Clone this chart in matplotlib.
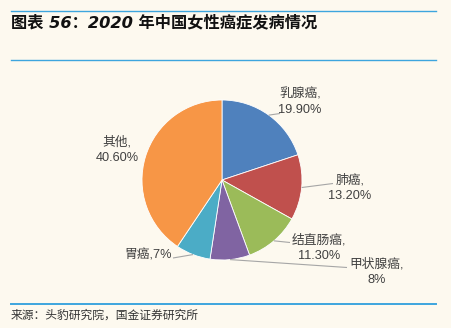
import matplotlib
matplotlib.use("Agg")
import matplotlib.pyplot as plt
import numpy as np

# ---- data ----
categories = ["乳腺癌", "肺癌", "结直肠癌", "甲状腺癌", "胃癌", "其他"]
values = [19.9, 13.2, 11.3, 8.0, 7.0, 40.6]
value_labels = ["19.90%", "13.20%", "11.30%", "8%", "7%", "40.60%"]
colors = ["#4F81BD", "#C0504D", "#9BBB59", "#8064A2", "#4BACC6", "#F79646"]
title = "图表 56：2020 年中国女性癌症发病情况"
source = "来源：头豹研究院，国金证券研究所"

BG = "#FDF9EF"
LINE = "#3DA5DE"
TXT = "#404040"
FONTS = ["Liberation Sans", "Noto Sans CJK SC", "DejaVu Sans"]
plt.rcParams["font.family"] = FONTS

W, H = 452, 328
fig = plt.figure(figsize=(W / 100, H / 100), dpi=100, facecolor=BG)

# header / footer rules
def hline(y_px, lw):
    fig.add_artist(plt.Line2D([11 / W, 436 / W], [1 - y_px / H] * 2,
                              color=LINE, lw=lw, transform=fig.transFigure))

hline(11, 1.0)
hline(60, 1.0)
hline(304, 1.4)

fig.text(11 / W, 1 - 22 / H, title, fontsize=11.7, fontweight="bold",
         style="italic", color="#111111", va="center", ha="left",
         family=["DejaVu Sans", "Noto Sans CJK SC"])
fig.text(11 / W, 1 - 315 / H, source, fontsize=8.5, color="#333333",
         va="center", ha="left", family=["Noto Sans CJK SC", "DejaVu Sans"])

# pie axes: center (222,180) px, radius 80 px
cx, cy, r = 222, 180, 80
ax = fig.add_axes([(cx - r) / W, (H - cy - r) / H, 2 * r / W, 2 * r / H])
ax.set_facecolor(BG)

wedges, _ = ax.pie(values, colors=colors, startangle=90, counterclock=False,
                   radius=1.0, wedgeprops=dict(linewidth=0.6, edgecolor="white"))
ax.set_xlim(-1, 1)
ax.set_ylim(-1, 1)
ax.axis("off")

def px2d(x, y):
    return ((x - cx) / r, (cy - y) / r)

# label layout (pixel positions of text block centre, leader end, alignment)
layout = [
    dict(pos=(300, 102), end=(280, 113.5), ha="center", two=True),
    dict(pos=(350, 188), end=(333, 183.5), ha="center", two=True),
    dict(pos=(319, 248), end=(290, 242.5), ha="center", two=True),
    dict(pos=(377, 272), end=(347, 267.5), ha="center", two=True),
    dict(pos=(172, 255.5), end=(173, 258), ha="right", two=False),
    dict(pos=(117, 150), end=None, ha="center", two=True),
]

for w, cat, vl, lay in zip(wedges, categories, value_labels, layout):
    if lay["two"]:
        s = f"{cat},\n{vl}"
    else:
        s = f"{cat},{vl}"
    tx, ty = px2d(*lay["pos"])
    ax.text(tx, ty, s, ha=lay["ha"], va="center", fontsize=9.2, color=TXT,
            linespacing=1.35, multialignment="center", clip_on=False)
    if lay["end"] is not None:
        ang = np.deg2rad((w.theta1 + w.theta2) / 2)
        sx, sy = np.cos(ang) * 1.0, np.sin(ang) * 1.0
        ex, ey = px2d(*lay["end"])
        ax.plot([sx, ex], [sy, ey], color="#A6A6A6", lw=0.8, clip_on=False,
                solid_capstyle="butt")

fig.savefig("out.png", dpi=100, facecolor=BG)
